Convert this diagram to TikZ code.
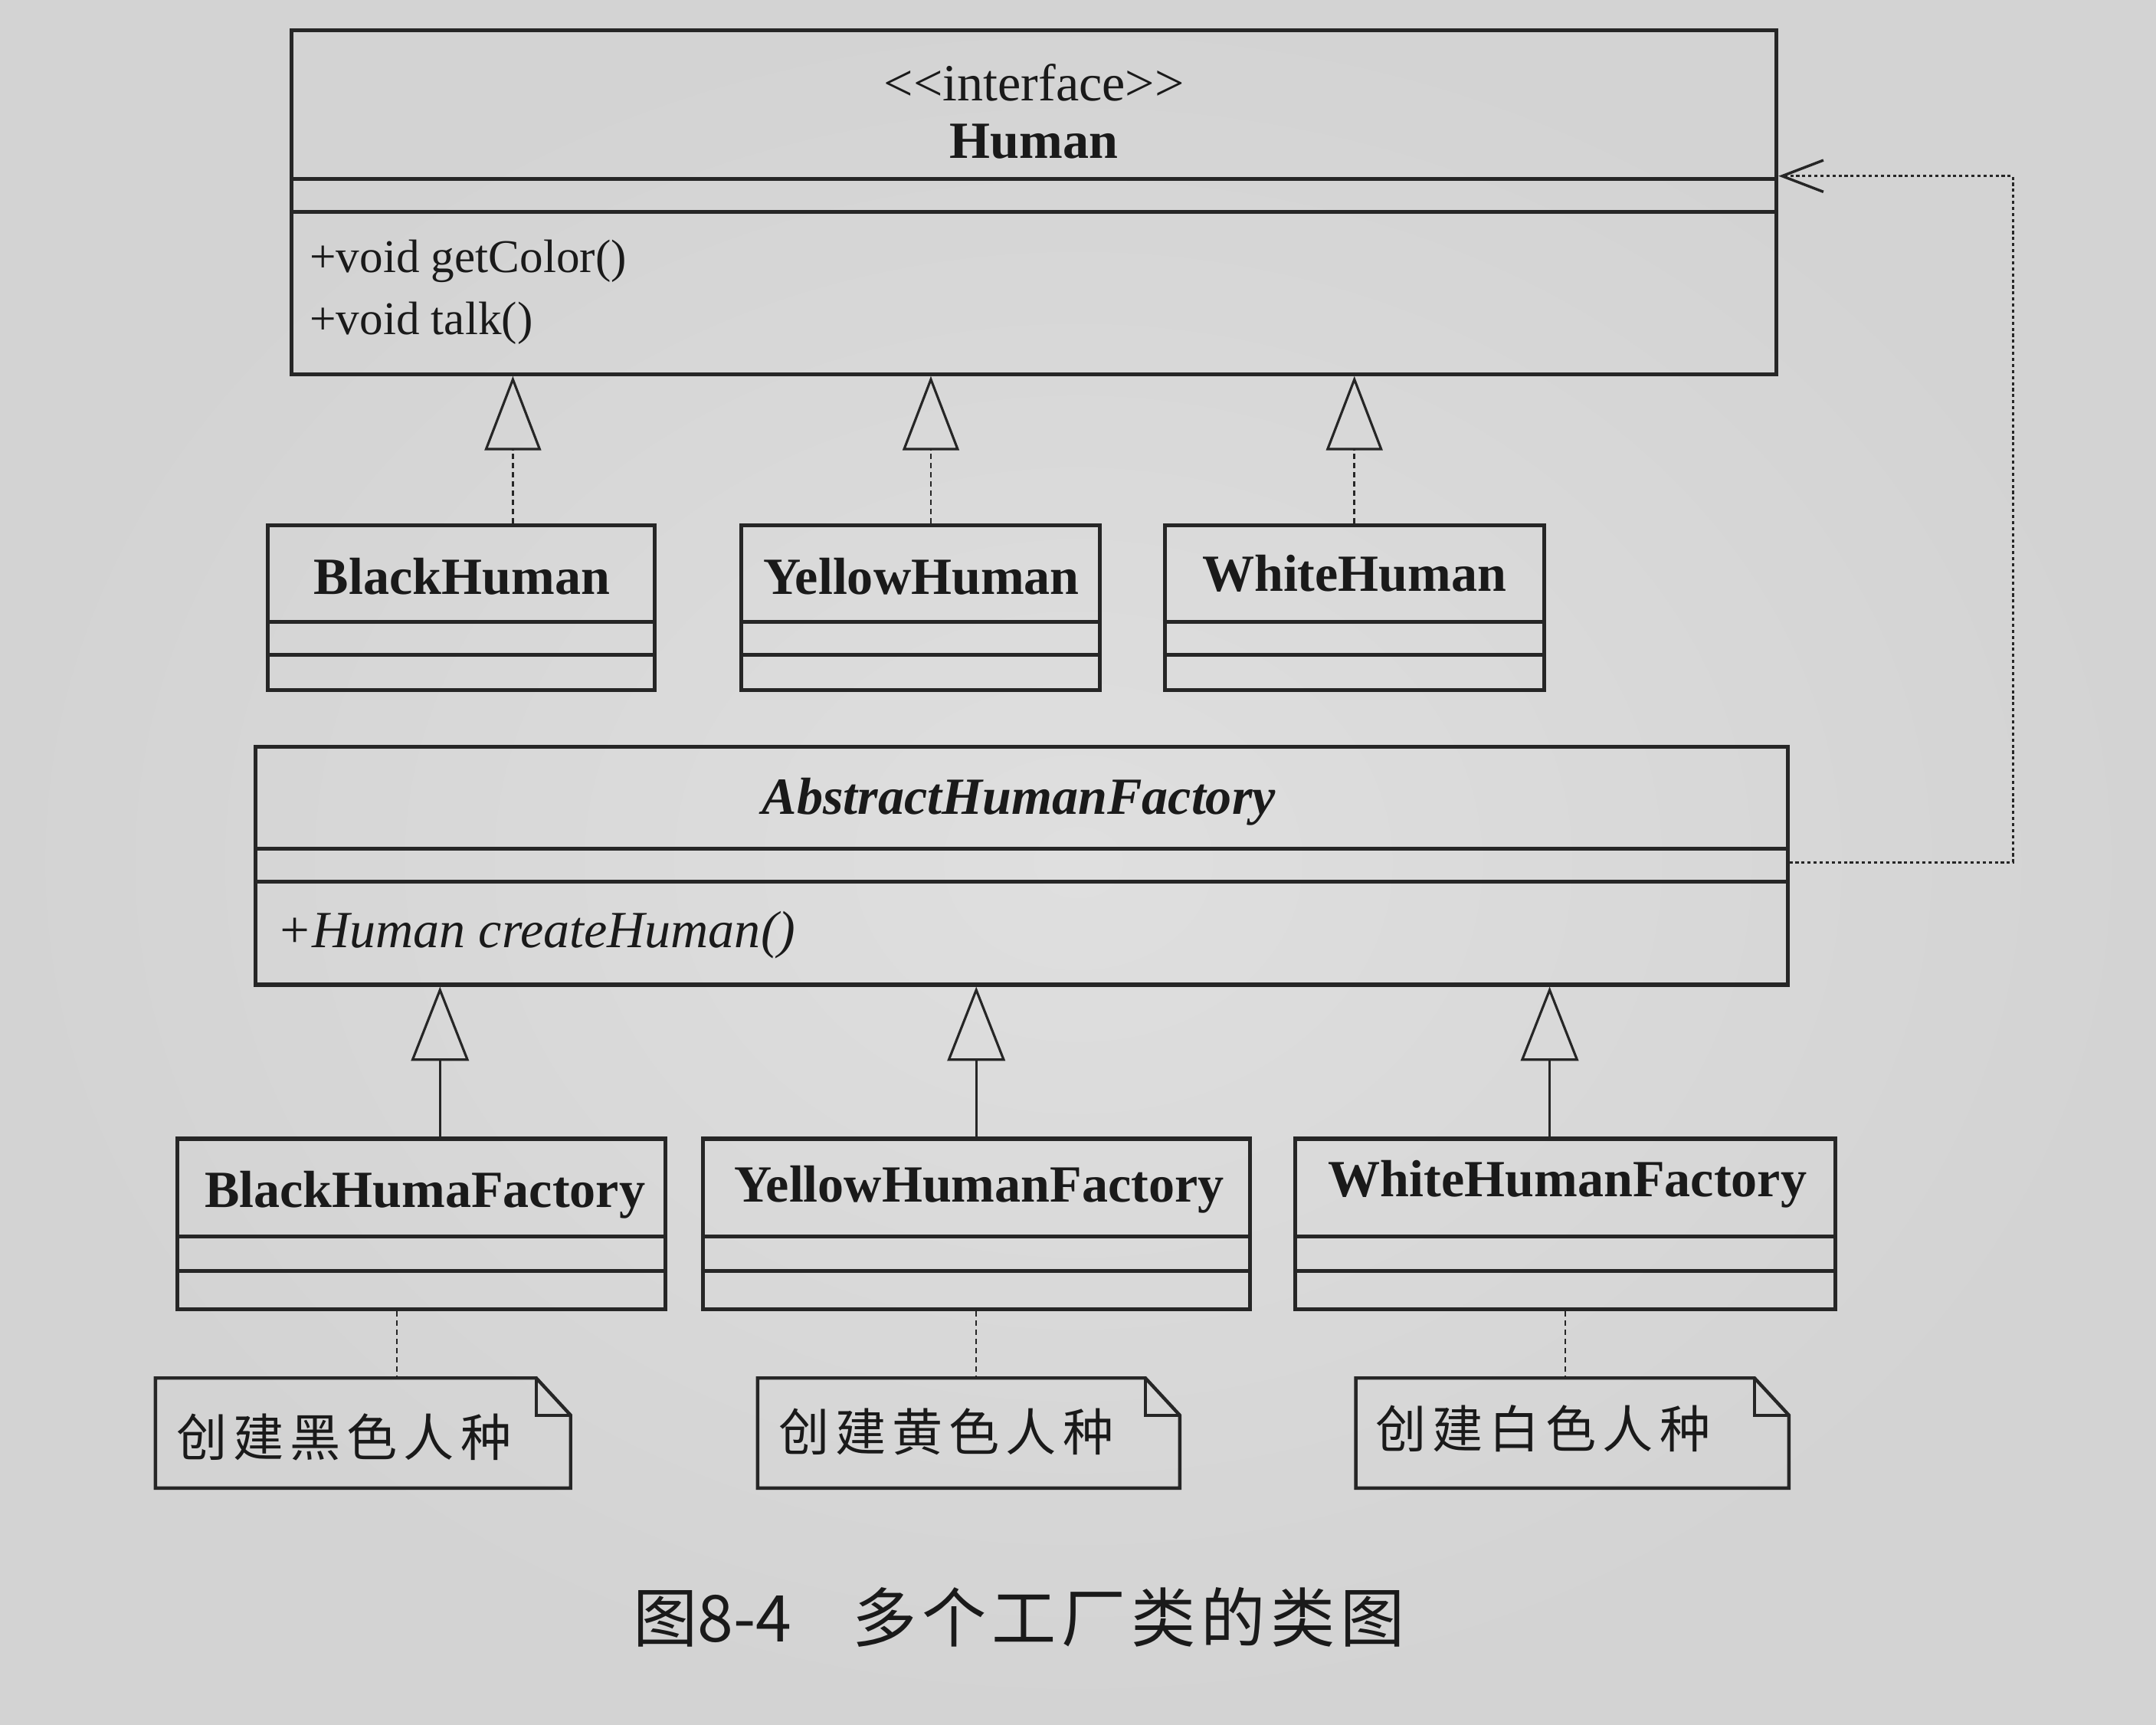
\documentclass[tikz,border=0pt]{standalone}
\usepackage{fontspec}
\setmainfont{Liberation Serif}
\newfontfamily\cjknote{Noto Sans CJK SC}[LetterSpace=12]
\newfontfamily\cjkcap{Noto Sans CJK SC}[LetterSpace=8]
\newfontfamily\cjkcapnum{Noto Sans CJK SC}
\usetikzlibrary{arrows.meta,calc,fit}

\definecolor{paperc}{HTML}{DADADA}
\definecolor{paperin}{HTML}{DFDFDF}
\definecolor{paperout}{HTML}{D3D3D3}
\definecolor{inkc}{HTML}{262626}
\definecolor{textc}{HTML}{1A1A1A}

\tikzset{
  clsbox/.style={draw=inkc, line width=1.6pt, inner sep=0pt},
  clsrule/.style={draw=inkc, line width=1.6pt},
  holder/.style={inner sep=0pt},
  clsname/.style={text=textc, inner sep=0pt, font=\fontsize{21.6pt}{24pt}\selectfont\bfseries},
  absname/.style={text=textc, inner sep=0pt, font=\fontsize{21.6pt}{24pt}\selectfont\bfseries\itshape},
  stereo/.style={text=textc, inner sep=0pt, font=\fontsize{21.6pt}{24pt}\selectfont},
  member/.style={text=textc, inner sep=0pt, anchor=west, font=\fontsize{19.4pt}{22pt}\selectfont},
  absmember/.style={text=textc, inner sep=0pt, anchor=west, font=\fontsize{21.6pt}{24pt}\selectfont\itshape},
  notetext/.style={text=textc, inner sep=0pt, anchor=west, font=\fontsize{21pt}{24pt}\cjknote},
  notebox/.style={draw=inkc, line width=1.4pt, line join=miter},
  realize/.style={draw=inkc, line width=0.9pt, dash pattern=on 2.2pt off 1.6pt,
    -{Triangle[open, length=1.08cm, width=0.82cm, line width=1pt]}},
  general/.style={draw=inkc, line width=1pt,
    -{Triangle[open, length=1.08cm, width=0.84cm, line width=1pt]}},
  notelink/.style={draw=inkc, line width=0.8pt, dash pattern=on 2.2pt off 1.6pt},
  depend/.style={draw=inkc, line width=1.1pt, dash pattern=on 1.3pt off 1.2pt,
    -{Straight Barb[length=0.6cm, width=0.46cm, line width=1.1pt]}},
  captext/.style={text=textc, inner sep=0pt, anchor=west, font=\fontsize{26.7pt}{30pt}\cjkcap},
}

\begin{document}
\begin{tikzpicture}[x=0.02cm, y=-0.02cm]
  % page
  \fill[paperc] (0,0) rectangle (1568,1254);
  \shade[inner color=paperin, outer color=paperout] (0,0) rectangle (1568,1254);
  \useasboundingbox (0,0) rectangle (1568,1254);

  % ---------------- interface Human ----------------
  \node[clsbox, fit={(212,22) (1292,272)}] (hu) {};
  \draw[clsrule] (hu.west |- 0,130) -- (hu.east |- 0,130);
  \draw[clsrule] (hu.west |- 0,154) -- (hu.east |- 0,154);
  \node[stereo] (hu-st) at (752,60) {{<}{<}interface{>}{>}};
  \node[clsname] (hu-nm) at (752,103) {Human};
  \node[member] (hu-m1) at (225,190) {+void getColor()};
  \node[member] (hu-m2) at (225,235) {+void talk()};

  % ---------------- concrete humans ----------------
  \node[clsbox, fit={(195,382) (476,502)}] (bh) {};
  \node[clsbox, fit={(539,382) (800,502)}] (yh) {};
  \node[clsbox, fit={(847,382) (1123,502)}] (wh) {};
  \foreach \c in {bh,yh,wh}{
    \draw[clsrule] (\c.west |- 0,452) -- (\c.east |- 0,452);
    \draw[clsrule] (\c.west |- 0,476) -- (\c.east |- 0,476);
  }
  \node[clsname] (bh-nm) at (336,419) {BlackHuman};
  \node[clsname] (yh-nm) at (670,419) {YellowHuman};
  \node[clsname] (wh-nm) at (985,417) {WhiteHuman};

  % realizations of Human
  \coordinate (rbh) at ($(bh.north)+(37.5,0)$);
  \coordinate (ryh) at ($(yh.north)+(7.5,0)$);
  \coordinate (rwh) at (wh.north);
  \draw[realize] (rbh) -- (rbh |- hu.south);
  \draw[realize] (ryh) -- (ryh |- hu.south);
  \draw[realize] (rwh) -- (rwh |- hu.south);

  % ---------------- abstract factory ----------------
  \node[clsbox, fit={(186,543) (1300,716)}] (ab) {};
  \draw[clsrule] (ab.west |- 0,617) -- (ab.east |- 0,617);
  \draw[clsrule] (ab.west |- 0,641) -- (ab.east |- 0,641);
  \node[absname] (ab-nm) at (741,583) {AbstractHumanFactory};
  \node[absmember] (ab-m1) at (201,680) {+Human createHuman()};

  % ---------------- concrete factories ----------------
  \node[clsbox, fit={(129,828) (484,952)}] (bf) {};
  \node[clsbox, fit={(511,828) (909,952)}] (yf) {};
  \node[clsbox, fit={(942,828) (1335,952)}] (wf) {};
  \foreach \c in {bf,yf,wf}{
    \draw[clsrule] (\c.west |- 0,899) -- (\c.east |- 0,899);
    \draw[clsrule] (\c.west |- 0,924) -- (\c.east |- 0,924);
  }
  \node[clsname] (bf-nm) at (309,869) {BlackHumaFactory};
  \node[clsname] (yf-nm) at (712,865) {YellowHumanFactory};
  \node[clsname] (wf-nm) at (1140,861) {WhiteHumanFactory};

  % generalizations of AbstractHumanFactory
  \coordinate (gbf) at ($(bf.north)+(13.5,0)$);
  \coordinate (gyf) at (yf.north);
  \coordinate (gwf) at ($(wf.north)+(-11.5,0)$);
  \draw[general] (gbf) -- (gbf |- ab.south);
  \draw[general] (gyf) -- (gyf |- ab.south);
  \draw[general] (gwf) -- (gwf |- ab.south);

  % dependency of the factory on Human
  \coordinate (depS) at (ab.east |- 0,627);
  \coordinate (depE) at (hu.east |- 0,128);
  \coordinate (depX) at (1464,0);
  \draw[depend] (depS) -- (depS -| depX) -- (depE -| depX) -- (depE);

  % ---------------- notes ----------------
  \foreach \nm/\xa/\xb in {nb/113/415, ny/551/858, nw/986/1301}{
    \node[holder, fit={(\xa,1002) (\xb,1082)}] (\nm) {};
    \draw[notebox] (\xa,1002) -- (\xb-25,1002) -- (\xb,1029) -- (\xb,1082)
                   -- (\xa,1082) -- cycle;
    \draw[notebox] (\xb-25,1002) -- (\xb-25,1029) -- (\xb,1029);
  }
  \node[notetext] (nb-tx) at (128,1045) {创建黑色人种};
  \node[notetext] (ny-tx) at (566,1041) {创建黄色人种};
  \node[notetext] (nw-tx) at (1000,1039) {创建白色人种};

  \coordinate (lbf) at ($(bf.south)+(-18,0)$);
  \coordinate (lyf) at (yf.south);
  \coordinate (lwf) at (wf.south);
  \draw[notelink] (lbf) -- (lbf |- nb.north);
  \draw[notelink] (lyf) -- (lyf |- ny.north);
  \draw[notelink] (lwf) -- (lwf |- nw.north);

  % ---------------- caption ----------------
  \node[captext] (cap) at (460,1176)
    {{\cjkcapnum 图8-4}\hspace{0.95em}多个工厂类的类图};
\end{tikzpicture}
\end{document}
